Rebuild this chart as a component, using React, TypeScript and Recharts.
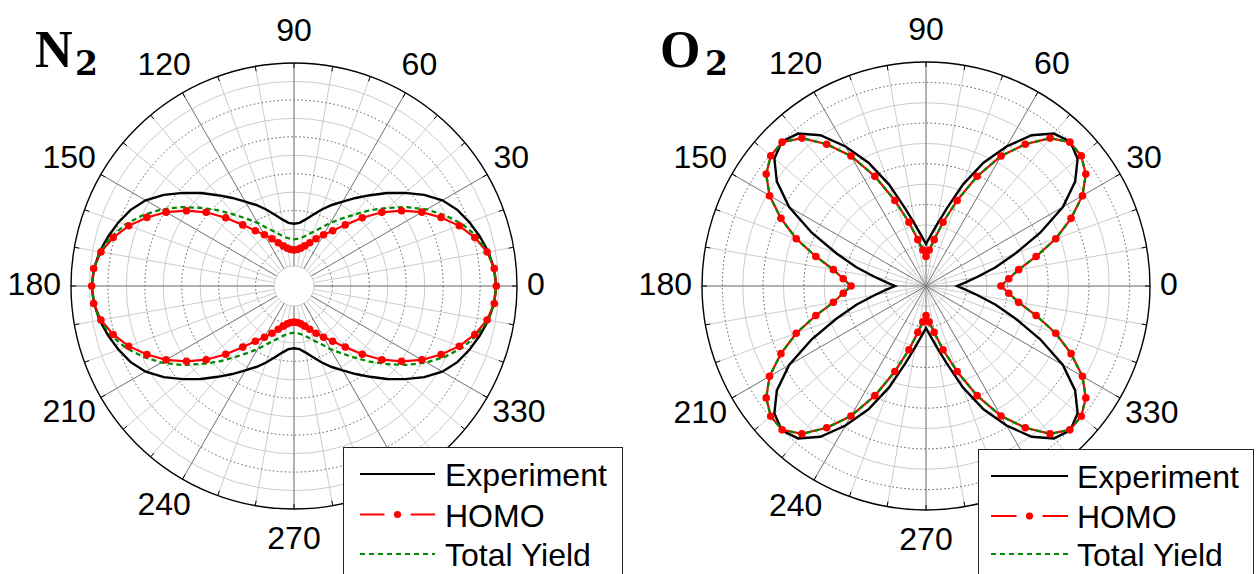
import React from 'react';
import { RadarChart, Radar, PolarGrid, PolarAngleAxis, PolarRadiusAxis } from 'recharts';

// sample angles (deg), one every 5 degrees
const ANGLES = Array.from({ length: 72 }, (_, i) => i * 5);

const ANGLE_LABELS = [0, 30, 60, 90, 120, 150, 180, 210, 240, 270, 300, 330];
const RIM_TICKS = Array.from({ length: 36 }, (_, i) => i * 10);

// ring values: light solid circles and dotted circles
const N2_SOLID_RINGS = [0, 0.2, 0.4, 0.6, 0.8, 1.0];
const N2_DOTTED_RINGS = [0.1, 0.3, 0.5, 0.7, 0.9];
const O2_SOLID_RINGS = [0.1, 0.3, 0.5, 0.7, 0.9];
const O2_DOTTED_RINGS = [0.2, 0.4, 0.6, 0.8, 1.0];

// N2 normalized yields
const N2_EXPERIMENT = [
  0.988, 0.979, 0.961, 0.933, 0.903, 0.868, 0.820, 0.753, 0.677, 0.604, 0.534, 0.474, 0.420, 0.376, 0.333, 0.291, 0.258, 0.235, 0.229,
  0.235, 0.258, 0.291, 0.333, 0.376, 0.420, 0.474, 0.534, 0.604, 0.677, 0.753, 0.820, 0.868, 0.903, 0.933, 0.961, 0.979, 0.988,
  0.979, 0.961, 0.933, 0.903, 0.868, 0.820, 0.753, 0.677, 0.604, 0.534, 0.474, 0.420, 0.376, 0.333, 0.291, 0.258, 0.235, 0.229,
  0.235, 0.258, 0.291, 0.333, 0.376, 0.420, 0.474, 0.534, 0.604, 0.677, 0.753, 0.820, 0.868, 0.903, 0.933, 0.961, 0.979,
];
const N2_HOMO = [
  0.988, 0.981, 0.954, 0.906, 0.845, 0.771, 0.692, 0.603, 0.513, 0.415, 0.324, 0.257, 0.212, 0.174, 0.141, 0.117, 0.100, 0.090, 0.087,
  0.090, 0.100, 0.117, 0.141, 0.174, 0.212, 0.257, 0.324, 0.415, 0.513, 0.603, 0.692, 0.771, 0.845, 0.906, 0.954, 0.981, 0.988,
  0.981, 0.954, 0.906, 0.845, 0.771, 0.692, 0.603, 0.513, 0.415, 0.324, 0.257, 0.212, 0.174, 0.141, 0.117, 0.100, 0.090, 0.087,
  0.090, 0.100, 0.117, 0.141, 0.174, 0.212, 0.257, 0.324, 0.415, 0.513, 0.603, 0.692, 0.771, 0.845, 0.906, 0.954, 0.981,
];
const N2_TOTAL = [
  0.987, 0.981, 0.959, 0.919, 0.865, 0.797, 0.721, 0.637, 0.550, 0.472, 0.396, 0.336, 0.287, 0.239, 0.206, 0.179, 0.160, 0.149, 0.144,
  0.149, 0.160, 0.179, 0.206, 0.239, 0.287, 0.336, 0.396, 0.472, 0.550, 0.637, 0.721, 0.797, 0.865, 0.919, 0.959, 0.981, 0.987,
  0.981, 0.959, 0.919, 0.865, 0.797, 0.721, 0.637, 0.550, 0.472, 0.396, 0.336, 0.287, 0.239, 0.206, 0.179, 0.160, 0.149, 0.144,
  0.149, 0.160, 0.179, 0.206, 0.239, 0.287, 0.336, 0.396, 0.472, 0.550, 0.637, 0.721, 0.797, 0.865, 0.919, 0.959, 0.981,
];

// O2 normalized yields
const O2_EXPERIMENT = [
  0.152, 0.192, 0.255, 0.354, 0.467, 0.619, 0.776, 0.894, 0.972, 1.002, 0.977, 0.904, 0.791, 0.668, 0.530, 0.393, 0.305, 0.246, 0.206,
  0.246, 0.305, 0.393, 0.530, 0.668, 0.791, 0.904, 0.977, 1.002, 0.972, 0.894, 0.776, 0.619, 0.467, 0.354, 0.255, 0.192, 0.152,
  0.192, 0.255, 0.354, 0.467, 0.619, 0.776, 0.894, 0.972, 1.002, 0.977, 0.904, 0.791, 0.668, 0.530, 0.393, 0.305, 0.246, 0.206,
  0.246, 0.305, 0.393, 0.530, 0.668, 0.791, 0.904, 0.977, 1.002, 0.972, 0.894, 0.776, 0.619, 0.467, 0.354, 0.255, 0.192,
];
const O2_HOMO = [
  0.368, 0.408, 0.462, 0.560, 0.678, 0.786, 0.887, 0.958, 0.995, 0.999, 0.948, 0.850, 0.737, 0.594, 0.447, 0.324, 0.231, 0.177, 0.145,
  0.177, 0.231, 0.324, 0.447, 0.594, 0.737, 0.850, 0.948, 0.999, 0.995, 0.958, 0.887, 0.786, 0.678, 0.560, 0.462, 0.408, 0.368,
  0.408, 0.462, 0.560, 0.678, 0.786, 0.887, 0.958, 0.995, 0.999, 0.948, 0.850, 0.737, 0.594, 0.447, 0.324, 0.231, 0.177, 0.145,
  0.177, 0.231, 0.324, 0.447, 0.594, 0.737, 0.850, 0.948, 0.999, 0.995, 0.958, 0.887, 0.786, 0.678, 0.560, 0.462, 0.408,
];
const O2_TOTAL = [
  0.368, 0.408, 0.462, 0.560, 0.678, 0.786, 0.887, 0.958, 0.995, 0.999, 0.948, 0.850, 0.737, 0.594, 0.447, 0.324, 0.231, 0.177, 0.145,
  0.177, 0.231, 0.324, 0.447, 0.594, 0.737, 0.850, 0.948, 0.999, 0.995, 0.958, 0.887, 0.786, 0.678, 0.560, 0.462, 0.408, 0.368,
  0.408, 0.462, 0.560, 0.678, 0.786, 0.887, 0.958, 0.995, 0.999, 0.948, 0.850, 0.737, 0.594, 0.447, 0.324, 0.231, 0.177, 0.145,
  0.177, 0.231, 0.324, 0.447, 0.594, 0.737, 0.850, 0.948, 0.999, 0.995, 0.958, 0.887, 0.786, 0.678, 0.560, 0.462, 0.408,
];

const toRows = (exp: number[], homo: number[], total: number[]) =>
  ANGLES.map((angle, i) => ({ angle, experiment: exp[i], homo: homo[i], total: total[i] }));

const SANS = '"Liberation Sans", Arial, sans-serif';
const LABEL_FONT = 32;
const RED = '#ff0000';
const GREEN = '#008a00';

// angle labels sit just outside the rim; other rim ticks get no text
const angleLabel = (cx: number, cy: number, r: number) => (props: any) => {
  const deg = Number(props.payload?.value);
  if (!ANGLE_LABELS.includes(deg)) return <g />;
  const a = (props.payload.coordinate * Math.PI) / 180;
  const text = String(deg);
  const halfW = (text.length * 0.556 * LABEL_FONT) / 2;
  const c = Math.cos(a);
  const s = Math.sin(a);
  return (
    <text
      x={cx + c * (r + 10 + halfW)}
      y={cy - s * (r + 31) - 2}
      textAnchor="middle"
      dominantBaseline="central"
      fontSize={LABEL_FONT}
      fontFamily={SANS}
      fill="#000"
    >
      {text}
    </text>
  );
};

const homoDot = (p: any) => <circle key={`d-${p.index}`} cx={p.cx} cy={p.cy} r={3.8} fill={RED} />;

interface PanelProps {
  rows: ReturnType<typeof toRows>;
  left: number;
  cx: number;
  cy: number;
  inner: number;
  outer: number;
  solidRings: number[];
  dottedRings: number[];
}

const PolarPanel: React.FC<PanelProps> = ({ rows, left, cx, cy, inner, outer, solidRings, dottedRings }) => (
  <div style={{ position: 'absolute', left, top: 0 }}>
    <RadarChart
      width={628}
      height={574}
      data={rows}
      cx={cx}
      cy={cy}
      innerRadius={inner}
      outerRadius={outer}
      startAngle={0}
      endAngle={360}
      margin={{ top: 0, right: 0, bottom: 0, left: 0 }}
    >
      <PolarRadiusAxis radiusAxisId="solid" type="number" domain={[0, 1.1]} ticks={solidRings} tick={false} axisLine={false} allowDataOverflow />
      <PolarRadiusAxis type="number" domain={[0, 1.1]} ticks={dottedRings} tick={false} axisLine={false} allowDataOverflow />
      <PolarGrid gridType="circle" radiusAxisId="solid" polarAngles={RIM_TICKS} stroke="#cccccc" strokeWidth={1} />
      <PolarGrid gridType="circle" radialLines={false} stroke="#555555" strokeWidth={1} strokeDasharray="1.5 2.5" />
      <PolarGrid gridType="circle" polarAngles={ANGLE_LABELS} polarRadius={[]} stroke="#7f7f7f" strokeWidth={1} />
      <PolarAngleAxis
        type="number"
        dataKey="angle"
        domain={[0, 360]}
        ticks={RIM_TICKS}
        orientation="inner"
        tickSize={5}
        tickLine={{ stroke: '#000', strokeWidth: 1 }}
        axisLine={{ stroke: '#000', strokeWidth: 1.4 }}
        axisLineType="circle"
        tick={angleLabel(cx, cy, outer)}
      />
      <Radar dataKey="experiment" stroke="#000" strokeWidth={2.4} fill="none" fillOpacity={0} dot={false} isAnimationActive={false} />
      <Radar dataKey="homo" stroke={RED} strokeWidth={2.2} fill="none" fillOpacity={0} dot={homoDot} isAnimationActive={false} />
      <Radar dataKey="total" stroke={GREEN} strokeWidth={2.3} strokeDasharray="5 3.5" fill="none" fillOpacity={0} dot={false} isAnimationActive={false} />
    </RadarChart>
  </div>
);

interface LegendProps {
  left: number;
  top: number;
  width: number;
  lineX0: number;
  lineX1: number;
  textX: number;
  rowY: number[];
}

const LEGEND_ITEMS = ['Experiment', 'HOMO', 'Total Yield'];

const LegendBox: React.FC<LegendProps> = ({ left, top, width, lineX0, lineX1, textX, rowY }) => {
  const mid = (lineX0 + lineX1) / 2;
  return (
    <svg width={width} height={150} style={{ position: 'absolute', left, top, overflow: 'visible' }}>
      <rect x={0.5} y={0.5} width={width - 1} height={160} fill="#fff" stroke="#222" strokeWidth={1} />
      <line x1={lineX0} x2={lineX1} y1={rowY[0]} y2={rowY[0]} stroke="#000" strokeWidth={2} />
      <line x1={lineX0} x2={mid - 13} y1={rowY[1]} y2={rowY[1]} stroke={RED} strokeWidth={2} />
      <circle cx={mid} cy={rowY[1]} r={3.6} fill={RED} />
      <line x1={mid + 13} x2={lineX1} y1={rowY[1]} y2={rowY[1]} stroke={RED} strokeWidth={2} />
      <line x1={lineX0} x2={lineX1} y1={rowY[2]} y2={rowY[2]} stroke={GREEN} strokeWidth={2} strokeDasharray="5 4" />
      {LEGEND_ITEMS.map((label, i) => (
        <text key={label} x={textX} y={rowY[i] + 12} fontSize={32} fontFamily={SANS} fill="#000">
          {label}
        </text>
      ))}
    </svg>
  );
};

const TITLE_SERIF = '"Liberation Serif", "Times New Roman", serif';
const SUB_SERIF = '"DejaVu Serif", "Liberation Serif", serif';

const Title: React.FC<{ letter: string; x: number; subX: number }> = ({ letter, x, subX }) => (
  <svg width={1256} height={90} style={{ position: 'absolute', left: 0, top: 0, overflow: 'visible' }}>
    <text x={x} y={67} fontSize={52} fontWeight="bold" fontFamily={TITLE_SERIF} fill="#000">
      {letter}
    </text>
    <text x={subX} y={75} fontSize={33} fontWeight="bold" fontFamily={SUB_SERIF} fill="#000">
      2
    </text>
  </svg>
);

export default function App() {
  const n2Rows = toRows(N2_EXPERIMENT, N2_HOMO, N2_TOTAL);
  const o2Rows = toRows(O2_EXPERIMENT, O2_HOMO, O2_TOTAL);
  return (
    <div
      style={{
        position: 'absolute',
        left: 0,
        top: 0,
        width: 1256,
        height: 574,
        overflow: 'hidden',
        background: '#fff',
      }}
    >
      <PolarPanel rows={n2Rows} left={0} cx={294} cy={286} inner={20} outer={223} solidRings={N2_SOLID_RINGS} dottedRings={N2_DOTTED_RINGS} />
      <PolarPanel rows={o2Rows} left={628} cx={298} cy={286} inner={0} outer={224} solidRings={O2_SOLID_RINGS} dottedRings={O2_DOTTED_RINGS} />
      <Title letter="N" x={35} subX={75} />
      <Title letter="O" x={660} subX={705} />
      <LegendBox left={343} top={447} width={280} lineX0={17} lineX1={92} textX={102} rowY={[27, 67.5, 107]} />
      <LegendBox left={978} top={449} width={276} lineX0={13} lineX1={90} textX={99} rowY={[27, 67, 105]} />
    </div>
  );
}
